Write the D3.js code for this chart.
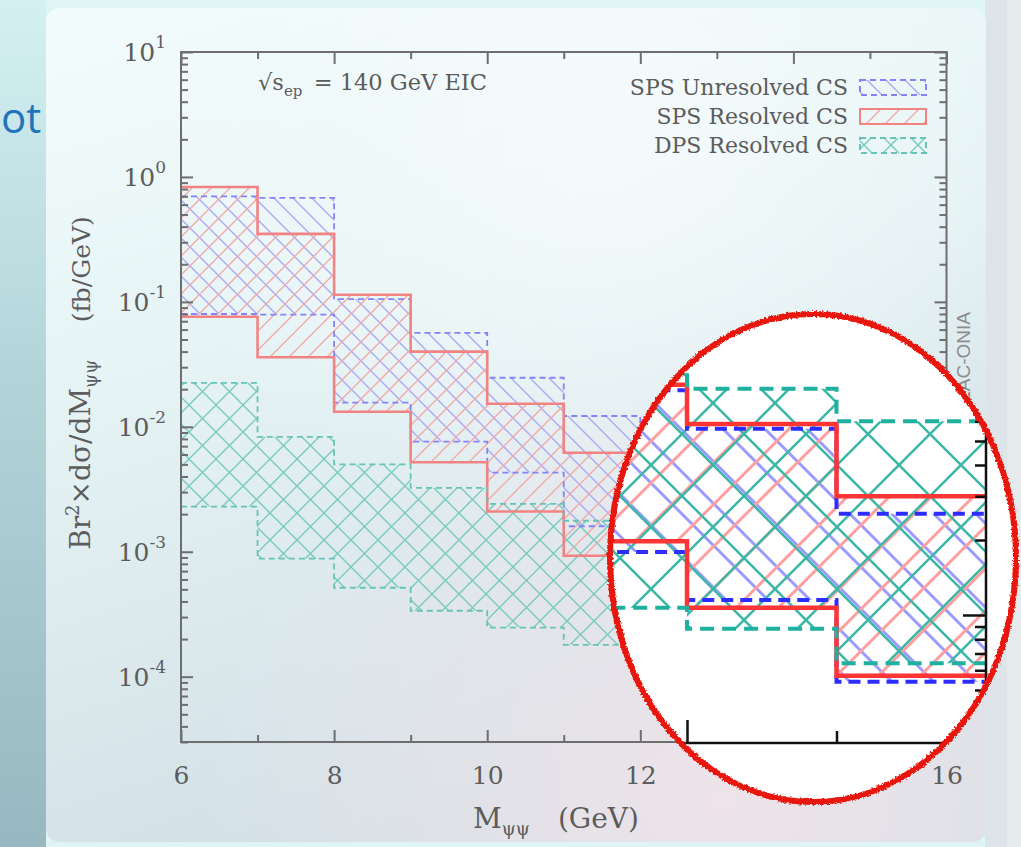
<!DOCTYPE html>
<html lang="en">
<head>
  <meta charset="UTF-8">
  <title>Di-J/psi invariant mass at the EIC</title>
  <script src="https://cdn.jsdelivr.net/npm/d3@7"></script>
  <style>
    html, body { margin: 0; padding: 0; background: #dff4f5; }
    svg { display: block; }
    .serif { font-family: "DejaVu Serif", serif; fill: #5c5c5c; }
    .frame path, .frame line { stroke: #6e6e6e; stroke-width: 2; }
    .inset-axis path, .inset-axis line { stroke: #111; stroke-width: 2.5; }
  </style>
</head>
<body>
<svg id="chart" width="1021" height="847"></svg>
<script>
// bin edges in M_psipsi (GeV)
const binEdges = [6, 7, 8, 9, 10, 11, 12, 13, 14, 15, 16];

// band limits per bin (fb/GeV)
const spsUnresolvedHi = [0.70, 0.68, 0.105, 0.0565, 0.0247, 0.0122, 0.0036, 8.0e-4, 5.6e-4, 2.55e-4];
const spsUnresolvedLo = [0.080, 0.079, 0.0156, 0.0076, 0.0043, 0.0016, 5.4e-4, 1.79e-4, 1.15e-4, 5.4e-5];
const spsResolvedHi   = [0.83, 0.35, 0.114, 0.040, 0.0153, 0.0062, 2.3e-3, 8.4e-4, 5.85e-4, 3.0e-4];
const spsResolvedLo   = [0.076, 0.036, 0.0132, 0.0052, 0.0021, 9.3e-4, 4.3e-4, 1.98e-4, 1.07e-4, 5.7e-5];
const dpsResolvedHi   = [0.0225, 0.0083, 0.0050, 0.00325, 0.00242, 0.00177, 1.4e-3, 1.05e-3, 8.1e-4, 6.0e-4];
const dpsResolvedLo   = [0.0023, 8.8e-4, 5.15e-4, 3.37e-4, 2.47e-4, 1.8e-4, 1.4e-4, 1.07e-4, 8.8e-5, 6.4e-5];

const seriesLabels = ['SPS Unresolved CS', 'SPS Resolved CS', 'DPS Resolved CS'];
const xTickLabels = [6, 8, 10, 12, 14, 16];
const yDecades = [-4, -3, -2, -1, 0, 1];

const svg = d3.select('#chart');
const defs = svg.append('defs');

// ---------- slide background ----------
const lg = (id, x1, y1, x2, y2, stops) => {
  const g = defs.append('linearGradient').attr('id', id)
    .attr('x1', x1).attr('y1', y1).attr('x2', x2).attr('y2', y2);
  stops.forEach(s => g.append('stop').attr('offset', s[0]).attr('stop-color', s[1]));
};
lg('leftStrip', 0, 0, 0, 1, [[0, '#d4f0f2'], [0.45, '#b2d4d9'], [1, '#97b8c0']]);
lg('panelBg', 0, 0, 0.35, 1, [[0, '#f3fcfc'], [0.4, '#e6f4f5'], [1, '#d2e0e6']]);
const pink = defs.append('radialGradient').attr('id', 'pinkGlow')
  .attr('cx', 0.72).attr('cy', 0.95).attr('r', 0.55);
pink.append('stop').attr('offset', 0).attr('stop-color', '#f1e4ea').attr('stop-opacity', 0.9);
pink.append('stop').attr('offset', 1).attr('stop-color', '#f1e4ea').attr('stop-opacity', 0);
const whiteGlow = defs.append('radialGradient').attr('id', 'whiteGlow')
  .attr('cx', 0.6).attr('cy', 0.15).attr('r', 0.5);
whiteGlow.append('stop').attr('offset', 0).attr('stop-color', '#f6fbfc').attr('stop-opacity', 0.9);
whiteGlow.append('stop').attr('offset', 1).attr('stop-color', '#f6fbfc').attr('stop-opacity', 0);

svg.append('rect').attr('width', 1021).attr('height', 847).attr('fill', '#dff4f5');
svg.append('rect').attr('width', 46).attr('height', 847).attr('fill', 'url(#leftStrip)');
svg.append('rect').attr('x', 985).attr('width', 36).attr('height', 847).attr('fill', '#e5eaec');
svg.append('rect').attr('x', 985).attr('width', 22).attr('height', 847).attr('fill', '#dde5e8');
const panel = { x: 46, y: 8, w: 940, h: 834 };
['url(#panelBg)', 'url(#whiteGlow)', 'url(#pinkGlow)'].forEach(f =>
  svg.append('rect').attr('x', panel.x).attr('y', panel.y).attr('width', panel.w).attr('height', panel.h)
    .attr('rx', 14).attr('fill', f));

// end of the slide title peeking in
svg.append('text').attr('x', 1).attr('y', 133)
  .attr('font-family', '"Open Sans", sans-serif').attr('font-size', 42).attr('fill', '#1f74bb')
  .text('ot');

// ---------- hatch patterns ----------
const addHatch = (id, size, color, width, dirs) => {
  const p = defs.append('pattern').attr('id', id).attr('patternUnits', 'userSpaceOnUse')
    .attr('width', size).attr('height', size);
  const s = size;
  if (dirs.includes('/')) {
    p.append('path').attr('d', `M-1,1 l2,-2 M0,${s} l${s},${-s} M${s - 1},${s + 1} l2,-2`)
      .attr('stroke', color).attr('stroke-width', width);
  }
  if (dirs.includes('\\')) {
    p.append('path').attr('d', `M-1,${s - 1} l2,2 M0,0 l${s},${s} M${s - 1},-1 l2,2`)
      .attr('stroke', color).attr('stroke-width', width);
  }
};
addHatch('hBlue', 19, '#a9a9f6', 1.4, '\\');
addHatch('hRed', 19, '#f4a9a9', 1.4, '/');
addHatch('hTeal', 27, '#79cabe', 1.4, '/\\');
addHatch('hBlueIn', 42, '#9b9bff', 3, '\\');
addHatch('hRedIn', 42, '#ff9e9e', 3, '/');
addHatch('hTealIn', 62, '#3db7a7', 2.6, '/\\');

const series = [
  { label: seriesLabels[0], hi: spsUnresolvedHi, lo: spsUnresolvedLo,
    main: { fill: 'url(#hBlue)', stroke: '#8484f8', width: 1.8, dash: '6,4' },
    inset: { fill: 'url(#hBlueIn)', stroke: '#2d2dff', width: 4, dash: '12,7' } },
  { label: seriesLabels[1], hi: spsResolvedHi, lo: spsResolvedLo,
    main: { fill: 'url(#hRed)', stroke: '#f28383', width: 2.6, dash: null },
    inset: { fill: 'url(#hRedIn)', stroke: '#ff3434', width: 4.5, dash: null } },
  { label: seriesLabels[2], hi: dpsResolvedHi, lo: dpsResolvedLo,
    main: { fill: 'url(#hTeal)', stroke: '#66c3b5', width: 1.8, dash: '6,4' },
    inset: { fill: 'url(#hTealIn)', stroke: '#1fb0a0', width: 4, dash: '14,8' } }
];

// step points: one per bin edge, last edge repeats last bin
const stepPoints = s => binEdges.map((e, i) => {
  const k = Math.min(i, s.hi.length - 1);
  return { e, hi: s.hi[k], lo: s.lo[k] };
});

const drawBands = (g, xs, ys, style) => {
  const area = d3.area().curve(d3.curveStepAfter)
    .x(d => xs(d.e)).y0(d => ys(d.lo)).y1(d => ys(d.hi));
  const lineHi = d3.line().curve(d3.curveStepAfter).x(d => xs(d.e)).y(d => ys(d.hi));
  const lineLo = d3.line().curve(d3.curveStepAfter).x(d => xs(d.e)).y(d => ys(d.lo));
  series.forEach(s => {
    g.append('path').attr('d', area(stepPoints(s))).attr('fill', s[style].fill);
  });
  series.forEach(s => {
    [lineHi, lineLo].forEach(ln => {
      g.append('path').attr('d', ln(stepPoints(s)))
        .attr('fill', 'none')
        .attr('stroke', s[style].stroke)
        .attr('stroke-width', s[style].width)
        .attr('stroke-dasharray', s[style].dash);
    });
  });
};

// ---------- main plot ----------
const plot = { left: 181, right: 946.5, top: 52, bottom: 742 };
const x = d3.scaleLinear().domain([6, 16]).range([plot.left, plot.right]);
const y = d3.scaleLog().domain([3e-5, 10]).range([plot.bottom, plot.top]);

const yMinor = [];
d3.range(-5, 1).forEach(p => d3.range(2, 10).forEach(m => {
  const v = m * Math.pow(10, p);
  if (v >= 3e-5 && v <= 10) yMinor.push(v);
}));
const yMajor = yDecades.map(p => Math.pow(10, p));
const xMajor = xTickLabels;
const xMinor = [7, 9, 11, 13, 15];

const main = svg.append('g');
drawBands(main, x, y, 'main');

const frame = main.append('g').attr('class', 'frame');
frame.append('rect').attr('x', plot.left).attr('y', plot.top)
  .attr('width', plot.right - plot.left).attr('height', plot.bottom - plot.top)
  .attr('fill', 'none').attr('stroke', '#6e6e6e').attr('stroke-width', 2);

const tickSets = [
  { axis: d3.axisBottom(x), vals: xMajor, len: 12, t: `translate(0,${plot.bottom})`, labels: true },
  { axis: d3.axisBottom(x), vals: xMinor, len: 7, t: `translate(0,${plot.bottom})` },
  { axis: d3.axisTop(x), vals: xMajor, len: 12, t: `translate(0,${plot.top})` },
  { axis: d3.axisTop(x), vals: xMinor, len: 7, t: `translate(0,${plot.top})` },
  { axis: d3.axisLeft(y), vals: yMajor, len: 12, t: `translate(${plot.left},0)` },
  { axis: d3.axisLeft(y), vals: yMinor, len: 7, t: `translate(${plot.left},0)` },
  { axis: d3.axisRight(y), vals: yMajor, len: 12, t: `translate(${plot.right},0)` },
  { axis: d3.axisRight(y), vals: yMinor, len: 7, t: `translate(${plot.right},0)` }
];
tickSets.forEach(ts => {
  const g = frame.append('g').attr('transform', ts.t)
    .call(ts.axis.tickValues(ts.vals).tickSize(-ts.len).tickSizeOuter(0)
      .tickPadding(24).tickFormat(ts.labels ? d3.format('d') : () => ''));
  g.select('.domain').remove();
  g.selectAll('text').attr('class', 'serif').attr('font-size', 25).attr('fill', '#5c5c5c')
    .attr('font-family', '"DejaVu Serif", serif');
});

// y tick labels 10^n
const yLab = frame.append('g').selectAll('text').data(yDecades).join('text')
  .attr('class', 'serif').attr('font-size', 25)
  .attr('x', 166).attr('y', d => y(Math.pow(10, d))).attr('dy', '0.36em')
  .attr('text-anchor', 'end');
yLab.append('tspan').text('10');
yLab.append('tspan').attr('font-size', 17).attr('dy', '-0.75em').text(d => String(d));

// axis titles
const xt = svg.append('text').attr('class', 'serif').attr('font-size', 28)
  .attr('x', 556).attr('y', 828).attr('text-anchor', 'middle');
xt.append('tspan').text('M');
xt.append('tspan').attr('font-size', 18).attr('dy', 7).text('ψψ');
xt.append('tspan').attr('dy', -7).text('\u2002\u2002(GeV)');

const yt = svg.append('text').attr('class', 'serif').attr('font-size', 28)
  .attr('transform', 'translate(90,383) rotate(-90)').attr('text-anchor', 'middle');
yt.append('tspan').text('Br');
yt.append('tspan').attr('font-size', 18).attr('dy', -11).text('2');
yt.append('tspan').attr('dy', 11).text('×dσ/dM');
yt.append('tspan').attr('font-size', 18).attr('dy', 7).text('ψψ');
yt.append('tspan').attr('dy', -7).attr('font-size', 25).text('\u2003\u2002(fb/GeV)');

// energy annotation
const ann = svg.append('text').attr('class', 'serif').attr('font-size', 22.5)
  .attr('x', 258).attr('y', 90);
ann.append('tspan').text('√s');
ann.append('tspan').attr('font-size', 15).attr('dy', 6).text('ep');
ann.append('tspan').attr('dy', -6).text('\u2002= 140 GeV EIC');

// legend
const legend = svg.append('g').selectAll('g').data(series).join('g')
  .attr('transform', (d, i) => `translate(0,${87 + i * 29})`);
legend.append('text').attr('class', 'serif').attr('font-size', 22)
  .attr('x', 848).attr('y', 8).attr('text-anchor', 'end').text(d => d.label);
legend.append('rect').attr('x', 860).attr('y', -7).attr('width', 66).attr('height', 15)
  .attr('fill', d => d.main.fill).attr('stroke', d => d.main.stroke)
  .attr('stroke-width', 2).attr('stroke-dasharray', d => d.main.dash);

// generator watermark along the right edge
svg.append('text').attr('transform', 'translate(970,312) rotate(-90)')
  .attr('text-anchor', 'end').attr('font-family', '"Liberation Sans", Arial, sans-serif')
  .attr('font-size', 19).attr('fill', '#8c8c8c').text('HELAC-ONIA');

// ---------- magnified inset (hand-circled) ----------
const ell = { cx: 813, cy: 558, rx: 203, ry: 244 };
defs.append('clipPath').attr('id', 'insetClip').append('ellipse')
  .attr('cx', ell.cx).attr('cy', ell.cy).attr('rx', ell.rx).attr('ry', ell.ry);
const rough = defs.append('filter').attr('id', 'rough')
  .attr('x', '-10%').attr('y', '-10%').attr('width', '120%').attr('height', '120%');
rough.append('feTurbulence').attr('type', 'fractalNoise').attr('baseFrequency', 0.45)
  .attr('numOctaves', 2).attr('seed', 4).attr('result', 'noise');
rough.append('feDisplacementMap').attr('in', 'SourceGraphic').attr('in2', 'noise')
  .attr('scale', 4).attr('xChannelSelector', 'R').attr('yChannelSelector', 'G');

const xIn = d3.scaleLinear().domain([14, 16]).range([687, 986]);
const yIn = d3.scaleLog().domain([1e-4, 1e-3]).range([615, 366]);

const inset = svg.append('g').attr('clip-path', 'url(#insetClip)');
inset.append('ellipse').attr('cx', ell.cx).attr('cy', ell.cy)
  .attr('rx', ell.rx).attr('ry', ell.ry).attr('fill', '#fff');
drawBands(inset, xIn, yIn, 'inset');

const inBottom = 743;
const inAxes = inset.append('g').attr('class', 'inset-axis');
inAxes.append('line').attr('x1', xIn(13)).attr('x2', xIn(16))
  .attr('y1', inBottom).attr('y2', inBottom);
inAxes.append('line').attr('x1', xIn(16)).attr('x2', xIn(16))
  .attr('y1', inBottom).attr('y2', 300);
[[ [14, 16], 23 ], [ [13, 15], 12 ]].forEach(([vals, len]) => {
  const g = inAxes.append('g').attr('transform', `translate(0,${inBottom})`)
    .call(d3.axisBottom(xIn).tickValues(vals).tickSize(-len).tickSizeOuter(0).tickFormat(() => ''));
  g.select('.domain').remove();
});
const yInMinor = yMinor.filter(v => v < 2e-3);
[[ [1e-4, 1e-3], 23 ], [ yInMinor, 11 ]].forEach(([vals, len]) => {
  const g = inAxes.append('g').attr('transform', `translate(${xIn(16)},0)`)
    .call(d3.axisRight(yIn).tickValues(vals).tickSize(-len).tickSizeOuter(0).tickFormat(() => ''));
  g.select('.domain').remove();
});

// red marker circle
svg.append('ellipse').attr('cx', ell.cx).attr('cy', ell.cy)
  .attr('rx', ell.rx).attr('ry', ell.ry)
  .attr('fill', 'none').attr('stroke', '#e8190c').attr('stroke-width', 6)
  .attr('filter', 'url(#rough)');
</script>
</body>
</html>
